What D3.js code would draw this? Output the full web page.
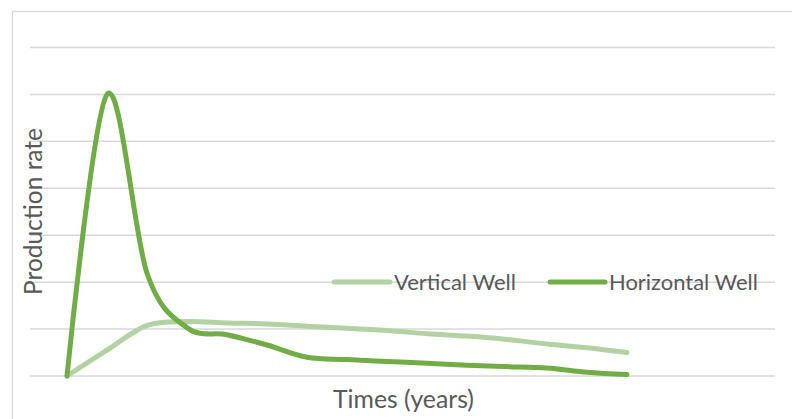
<!DOCTYPE html>
<html>
<head>
<meta charset="utf-8">
<script src="https://cdn.jsdelivr.net/npm/d3@7/dist/d3.min.js"></script>
<style>
  html, body { margin: 0; padding: 0; background: #fff; }
  svg { display: block; }
  text { font-family: Lato, "Open Sans", sans-serif; fill: #595959; }
</style>
</head>
<body>
<svg id="chart" width="792" height="419"></svg>
<script>
// Time steps (years) and production rate for each well type
const years = [0, 1, 2, 3, 4, 5, 6, 7, 8, 9, 10, 11, 12, 13, 14];
const verticalWell = [0, 0.55, 1.08, 1.16, 1.13, 1.11, 1.06, 1.02, 0.97, 0.90, 0.85, 0.78, 0.68, 0.60, 0.50];
const horizontalWell = [0, 6.0, 2.19, 1.03, 0.88, 0.66, 0.40, 0.35, 0.31, 0.27, 0.23, 0.20, 0.17, 0.08, 0.03];
const gridTicks = [0, 1, 2, 3, 4, 5, 6, 7];
const seriesNames = ["Vertical Well", "Horizontal Well"];
const seriesColors = ["#B3D2A4", "#70AD47"];

const svg = d3.select("#chart");

// Chart frame
svg.append("rect")
  .attr("x", 12.5).attr("y", 11.5)
  .attr("width", 800).attr("height", 430)
  .attr("fill", "#fff")
  .attr("stroke", "#D9D9D9").attr("stroke-width", 1.3);

const plot = { left: 30, right: 775, top: 47.5, bottom: 376 };

const x = d3.scaleLinear().domain([0, 14]).range([67, 627]);
const y = d3.scaleLinear().domain([0, 7]).range([plot.bottom, plot.top]);

// Horizontal gridlines
svg.append("g")
  .selectAll("line")
  .data(gridTicks)
  .join("line")
  .attr("x1", plot.left).attr("x2", plot.right)
  .attr("y1", d => y(d)).attr("y2", d => y(d))
  .attr("stroke", "#D9D9D9").attr("stroke-width", 1.5);

// Smoothed series lines
const line = d3.line()
  .x((d, i) => x(years[i]))
  .y(d => y(d))
  .curve(d3.curveCatmullRom.alpha(0));

[verticalWell, horizontalWell].forEach((vals, k) => {
  svg.append("path")
    .datum(vals)
    .attr("d", line)
    .attr("fill", "none")
    .attr("stroke", seriesColors[k])
    .attr("stroke-width", 5)
    .attr("stroke-linecap", "round")
    .attr("stroke-linejoin", "round");
});

// Resize a text node so that it spans the given width
function fitText(sel, width) {
  const base = parseFloat(sel.style("font-size"));
  const w = sel.node().getComputedTextLength();
  sel.style("font-size", (base * width / w) + "px");
  return sel;
}

// Legend
const legend = [
  { name: seriesNames[0], color: seriesColors[0], x0: 334, x1: 390, tx: 394, tw: 122 },
  { name: seriesNames[1], color: seriesColors[1], x0: 550, x1: 605, tx: 609, tw: 149 }
];
const lg = svg.append("g");
legend.forEach(d => {
  lg.append("line")
    .attr("x1", d.x0).attr("x2", d.x1)
    .attr("y1", 282).attr("y2", 282)
    .attr("stroke", d.color).attr("stroke-width", 5)
    .attr("stroke-linecap", "round");
  const t = lg.append("text")
    .attr("x", d.tx).attr("y", 289.5)
    .style("font-size", "21px")
    .text(d.name);
  fitText(t, d.tw);
});

// Axis titles
const yt = svg.append("text")
  .attr("transform", "translate(42,211.5) rotate(-90)")
  .attr("text-anchor", "middle")
  .style("font-size", "23px")
  .text("Production rate");
fitText(yt, 167);

const xt = svg.append("text")
  .attr("x", 403.5).attr("y", 408)
  .attr("text-anchor", "middle")
  .style("font-size", "23px")
  .text("Times (years)");
fitText(xt, 141);
</script>
</body>
</html>
